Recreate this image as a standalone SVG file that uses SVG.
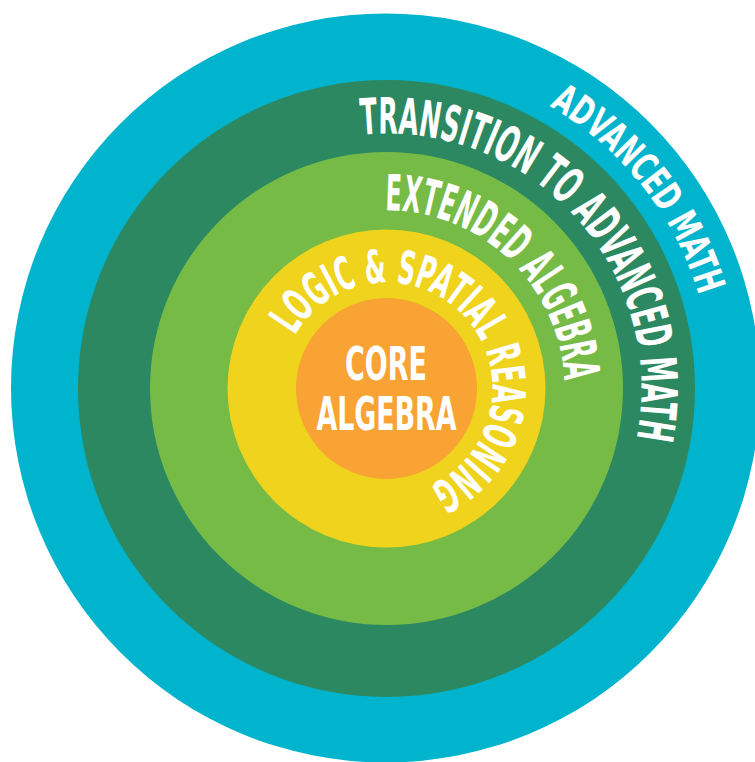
<svg xmlns="http://www.w3.org/2000/svg" xmlns:xlink="http://www.w3.org/1999/xlink" width="755" height="762" viewBox="0 0 755 762">
  <style>
    .lbl { fill: #ffffff; font-family: "DejaVu Sans Condensed", "DejaVu Sans", sans-serif; font-weight: bold; font-stretch: condensed; }
  </style>
  <defs>
    <path id="arc-adv" d="M549.5,106.2 A326,326 0 0 1 707.5,445.1"/>
    <path id="arc-trans" d="M361.2,134.8 A255,255 0 0 1 581.8,552.4"/>
    <path id="arc-ext" d="M385,210.5 A178,178 0 0 1 540.6,477.5"/>
    <path id="arc-logic" d="M294.7,335.5 A106,106 0 1 1 350.2,488.1"/>
  </defs>
  <rect width="755" height="762" fill="#ffffff"/>
  <g id="advanced-math">
    <circle cx="385.5" cy="388" r="374.5" fill="#00B4CD"/>
    <text class="lbl" font-size="40"><textPath xlink:href="#arc-adv" href="#arc-adv" textLength="247" lengthAdjust="spacingAndGlyphs">ADVANCED MATH</textPath></text>
  </g>
  <g id="transition">
    <circle cx="386.5" cy="388.5" r="308.5" fill="#2C8860"/>
    <text class="lbl" font-size="50"><textPath xlink:href="#arc-trans" href="#arc-trans" textLength="476" lengthAdjust="spacingAndGlyphs">TRANSITION TO ADVANCED MATH</textPath></text>
  </g>
  <g id="extended-algebra">
    <circle cx="386.5" cy="388.5" r="236.5" fill="#76BB46"/>
    <text class="lbl" font-size="50"><textPath xlink:href="#arc-ext" href="#arc-ext" textLength="273" lengthAdjust="spacingAndGlyphs">EXTENDED ALGEBRA</textPath></text>
  </g>
  <g id="logic-spatial">
    <circle cx="386.5" cy="388.5" r="159" fill="#EFD31D"/>
    <text class="lbl" font-size="46"><textPath xlink:href="#arc-logic" href="#arc-logic" textLength="399" lengthAdjust="spacingAndGlyphs">LOGIC &amp; SPATIAL REASONING</textPath></text>
  </g>
  <g id="core-algebra">
    <circle cx="386.5" cy="388.5" r="90.5" fill="#F8A333"/>
    <text class="lbl" font-size="47" x="386" y="380" text-anchor="middle" textLength="82" lengthAdjust="spacingAndGlyphs">CORE</text>
    <text class="lbl" font-size="47" x="386.5" y="430" text-anchor="middle" textLength="140" lengthAdjust="spacingAndGlyphs">ALGEBRA</text>
  </g>
</svg>
